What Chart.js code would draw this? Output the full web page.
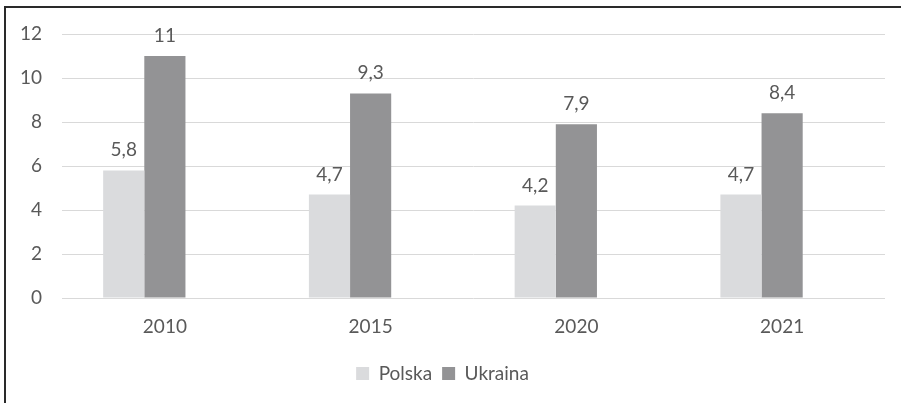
<!DOCTYPE html>
<html>
<head>
<meta charset="utf-8">
<script src="https://cdn.jsdelivr.net/npm/chart.js@4"></script>
<style>
  html, body { margin: 0; padding: 0; background: #fff; }
  #frame { position: absolute; left: 4px; top: 6px; width: 897px; height: 397px; border-top: 2px solid #2a2a2a; border-left: 2px solid #2a2a2a; }
  #wrap { position: absolute; left: 0; top: 0; width: 901px; height: 403px; }
</style>
</head>
<body>
<div id="frame"></div>
<div id="wrap"><canvas id="chart"></canvas></div>
<script>
const years = ['2010', '2015', '2020', '2021'];
const polska = [5.8, 4.7, 4.2, 4.7];
const ukraina = [11, 9.3, 7.9, 8.4];
const pusty = [null, null, null, null]; // third, empty series in the original (shifts the bars left)

const textColor = '#595959';
const fontFamily = 'Lato, "Open Sans", sans-serif';

// values above the bars, with decimal comma
const valueLabels = {
  id: 'valueLabels',
  afterDatasetsDraw(chart) {
    const ctx = chart.ctx;
    ctx.save();
    ctx.font = '19px ' + fontFamily;
    ctx.fillStyle = textColor;
    ctx.textAlign = 'center';
    ctx.textBaseline = 'alphabetic';
    chart.data.datasets.forEach((ds, i) => {
      chart.getDatasetMeta(i).data.forEach((bar, j) => {
        const v = ds.data[j];
        if (v == null) return;
        ctx.fillText(String(v).replace('.', ','), bar.x, bar.y - 14);
      });
    });
    ctx.restore();
  }
};

new Chart(document.getElementById('chart').getContext('2d'), {
  type: 'bar',
  data: {
    labels: years,
    datasets: [
      { label: 'Polska', data: polska, backgroundColor: '#dadbdd' },
      { label: 'Ukraina', data: ukraina, backgroundColor: '#939395' },
      { label: '', data: pusty, backgroundColor: 'rgba(0,0,0,0)' }
    ]
  },
  options: {
    responsive: true,
    maintainAspectRatio: false,
    animation: false,
    datasets: { bar: { categoryPercentage: 0.6, barPercentage: 1 } },
    layout: { padding: { top: 34, right: 16, bottom: 10, left: 0 } },
    scales: {
      x: {
        grid: { display: false, drawTicks: false },
        border: { display: false },
        ticks: { color: textColor, font: { family: fontFamily, size: 19 }, padding: 17 },
        afterFit: (s) => { s.height = 56; }
      },
      y: {
        min: 0, max: 12,
        ticks: { stepSize: 2, color: textColor, font: { family: fontFamily, size: 19 }, padding: 20 },
        grid: { color: '#d9d9d9', lineWidth: 1, drawTicks: false },
        border: { display: false },
        afterFit: (s) => { s.width = 62; }
      }
    },
    plugins: {
      tooltip: { enabled: false },
      legend: {
        position: 'bottom',
        labels: {
          color: textColor,
          font: { family: fontFamily, size: 19 },
          boxWidth: 13, boxHeight: 13,
          padding: 10,
          filter: (item) => item.text !== ''
        }
      }
    }
  },
  plugins: [valueLabels]
});
</script>
</body>
</html>
